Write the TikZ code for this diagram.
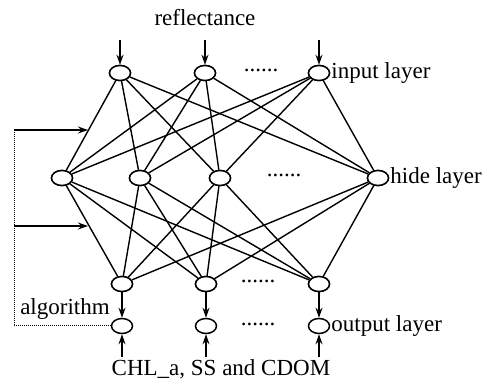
\documentclass[tikz,border=0pt]{standalone}
\usepackage{fontspec}
\setmainfont{Liberation Serif}
\usetikzlibrary{arrows.meta,shapes.geometric}
\begin{document}
\begin{tikzpicture}[x=1pt,y=-1pt,
  neuron/.style={draw,ellipse,line width=1.5pt,minimum width=21pt,minimum height=15pt,inner sep=0pt,fill=white},
  link/.style={line width=1.4pt},
  feed/.style={line width=1.4pt,-{Stealth[length=10pt,width=7pt]}},
  loopline/.style={line width=1pt,densely dotted},
  lbl/.style={font=\rmfamily\fontsize{23}{27}\selectfont,inner sep=1pt},
  dots/.style={font=\rmfamily\fontsize{23}{27}\selectfont,inner sep=0pt}]
\useasboundingbox (0,0) rectangle (491,382);

% input layer
\node[neuron] (i1) at (120,73) {};
\node[neuron] (i2) at (205,73) {};
\node[neuron] (i3) at (319,73) {};
% hidden layer
\node[neuron] (h1) at (62,178) {};
\node[neuron] (h2) at (140,178) {};
\node[neuron] (h3) at (220,178) {};
\node[neuron] (h4) at (378,178) {};
% network outputs
\node[neuron] (o1) at (122,284) {};
\node[neuron] (o2) at (206,284) {};
\node[neuron] (o3) at (319,284) {};
% measured targets
\node[neuron] (t1) at (122,326) {};
\node[neuron] (t2) at (206,326) {};
\node[neuron] (t3) at (319,326) {};

% full connections
\foreach \a in {i1,i2,i3}
  \foreach \b in {h1,h2,h3,h4}
    \draw[link] (\a) -- (\b);
\foreach \a in {h1,h2,h3,h4}
  \foreach \b in {o1,o2,o3}
    \draw[link] (\a) -- (\b);

% redraw nodes on top of the links
\foreach \n in {i1,i2,i3,h1,h2,h3,h4,o1,o2,o3}
  \node[neuron] at (\n) {};

% inputs from above
\coordinate (r1) at (120,40);
\coordinate (r2) at (205,40);
\coordinate (r3) at (319,40);
\draw[feed] (r1) -- (i1);
\draw[feed] (r2) -- (i2);
\draw[feed] (r3) -- (i3);

% outputs to targets
\draw[feed] (o1) -- (t1);
\draw[feed] (o2) -- (t2);
\draw[feed] (o3) -- (t3);

% targets from below
\coordinate (c1) at (122,357);
\coordinate (c2) at (206,357);
\coordinate (c3) at (319,357);
\draw[feed] (c1) -- (t1);
\draw[feed] (c2) -- (t2);
\draw[feed] (c3) -- (t3);

% feedback loop of the training algorithm
\coordinate (lb) at (14,326);
\coordinate (lt) at (14,130);
\coordinate (lm) at (14,226);
\coordinate (a1) at (88,130);
\coordinate (a2) at (88,226);
\draw[loopline] (t1.west) -- (lb) -- (lt);
\draw[feed] (lt) -- (a1);
\draw[feed] (lm) -- (a2);

% labels
\node[lbl] (reflect) at (205,18) {reflectance};
\node[lbl,anchor=west] (inlbl) at (i3.east) {input layer};
\node[lbl,anchor=west] (hidlbl) at (h4.east) {hide layer};
\node[lbl,anchor=west] (outlbl) at (t3.east) {output layer};
\node[lbl] (alg) at (65,309) {algorithm};
\node[lbl] (targets) at (221,369) {CHL\_a, SS and CDOM};

\node[dots] (d1) at (261,70) {......};
\node[dots] (d2) at (284,175) {......};
\node[dots] (d3) at (258,281) {......};
\node[dots] (d4) at (258,324) {......};
\end{tikzpicture}
\end{document}
